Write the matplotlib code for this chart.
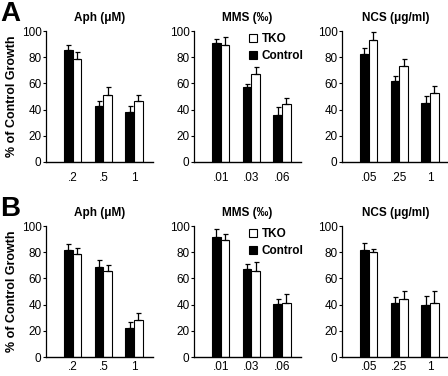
import matplotlib
matplotlib.use("Agg")
import matplotlib.pyplot as plt
from matplotlib.patches import Patch
import numpy as np

plt.rcParams['font.family'] = ['Liberation Sans', 'DejaVu Sans']

titles = ["Aph (\u03bcM)", "MMS (\u2030)", "NCS (\u03bcg/ml)"]
doses = [[".2", ".5", "1"], [".01", ".03", ".06"], [".05", ".25", "1"]]

# Panel A
A_control = [[85.5, 42.9, 37.8], [90.6, 56.9, 36.2], [82.1, 61.7, 45.2]]
A_control_err = [[4.0, 3.5, 5.1], [3.3, 2.8, 5.6], [5.1, 4.3, 5.1]]
A_tko = [[78.3, 51.3, 46.7], [89.3, 66.8, 43.9], [93.4, 73.0, 52.8]]
A_tko_err = [[5.9, 5.8, 4.8], [6.4, 5.9, 5.1], [6.1, 5.8, 4.9]]

# Panel B
B_control = [[81.6, 68.9, 22.4], [91.3, 66.8, 40.3], [81.6, 41.3, 39.8]]
B_control_err = [[4.6, 5.1, 4.4], [6.1, 4.4, 4.3], [5.6, 4.6, 6.6]]
B_tko = [[78.3, 65.6, 28.6], [89.3, 65.8, 41.3], [79.8, 44.4, 41.0]]
B_tko_err = [[4.9, 4.6, 4.8], [4.8, 6.4, 6.7], [2.3, 6.1, 9.5]]

W, H = 448, 376
fig = plt.figure(figsize=(W / 100, H / 100), dpi=100)

lefts = [46, 194, 342]
ax_w = 106.5
rows = [(31, 162, "A", 7, A_control, A_control_err, A_tko, A_tko_err),
        (226, 357, "B", 3, B_control, B_control_err, B_tko, B_tko_err)]

bw = 0.28
for (top, bot, letter, xpad, ctl, ctl_e, tko, tko_e) in rows:
    for j in range(3):
        ax = fig.add_axes([lefts[j] / W, 1 - bot / H, ax_w / W, (bot - top) / H])
        x = np.arange(3)
        ax.bar(x - bw / 2, ctl[j], bw, color='black', edgecolor='black', linewidth=0.8,
               yerr=[np.zeros(3), ctl_e[j]], error_kw=dict(ecolor='black', elinewidth=0.9, capsize=1.8, capthick=0.9),
               zorder=2)
        ax.bar(x + bw / 2, tko[j], bw, color='white', edgecolor='black', linewidth=0.8,
               yerr=[np.zeros(3), tko_e[j]], error_kw=dict(ecolor='black', elinewidth=0.9, capsize=1.8, capthick=0.9),
               zorder=2)
        ax.set_xlim(-0.87, 2.6)
        ax.set_ylim(0, 100)
        ax.set_yticks([0, 20, 40, 60, 80, 100])
        ax.set_xticks(x)
        ax.set_xticklabels(doses[j])
        ax.spines['top'].set_visible(False)
        ax.spines['right'].set_visible(False)
        ax.spines['left'].set_linewidth(0.9)
        ax.spines['bottom'].set_linewidth(1.0)
        ax.tick_params(axis='y', length=2.2, width=0.8, pad=1, labelsize=8.5)
        ax.tick_params(axis='x', length=0, pad=xpad, labelsize=8.5)
        ax.set_title(titles[j], fontsize=8.5, fontweight='bold', pad=7)
        if j == 1:
            handles = [Patch(facecolor='white', edgecolor='black', linewidth=0.8, label='TKO'),
                       Patch(facecolor='black', edgecolor='black', linewidth=0.8, label='Control')]
            ax.legend(handles=handles, loc='upper left', bbox_to_anchor=(0.47, 1.02),
                      frameon=False, handlelength=0.7, handleheight=0.7, handletextpad=0.4,
                      labelspacing=0.45, borderaxespad=0,
                      prop=dict(size=8.5, weight='bold'))
    fig.text(12 / W, 1 - (top + bot) / 2 / H, "% of Control Growth", rotation=90,
             ha='center', va='center', fontsize=9, fontweight='bold')
    fig.text(0 / W, 1 - (top - 30) / H, letter, ha='left', va='top', fontsize=20, fontweight='bold')

fig.savefig("out.png", dpi=100)
